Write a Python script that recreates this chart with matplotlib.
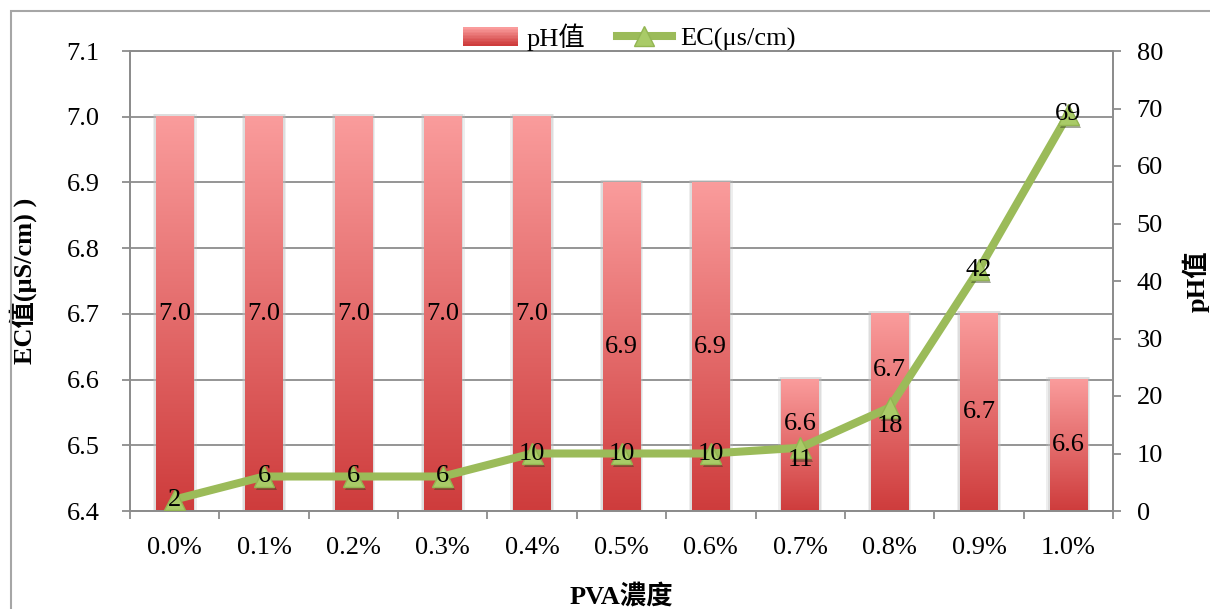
import matplotlib
matplotlib.use("Agg")
import matplotlib.pyplot as plt
import matplotlib.patheffects as pe
from matplotlib.colors import LinearSegmentedColormap
from matplotlib.patches import Rectangle
from matplotlib.legend_handler import HandlerBase
from matplotlib.lines import Line2D
import numpy as np

plt.rcParams["font.family"] = ["Liberation Serif", "Noto Sans CJK TC"]
plt.rcParams["font.size"] = 19

# Datos
concentraciones = ["0.0%", "0.1%", "0.2%", "0.3%", "0.4%", "0.5%",
                   "0.6%", "0.7%", "0.8%", "0.9%", "1.0%"]
ph = [7.0, 7.0, 7.0, 7.0, 7.0, 6.9, 6.9, 6.6, 6.7, 6.7, 6.6]
ec = [2, 6, 6, 6, 10, 10, 10, 11, 18, 42, 69]

GRIS = "#8C8C8C"
VERDE = "#9BBB59"
cmap_barra = LinearSegmentedColormap.from_list("barra", ["#CE3C3C", "#FA9C9C"])

fig = plt.figure(figsize=(12.1, 6.09), dpi=100)
ax = fig.add_axes([130 / 1210, 1 - 511 / 609, 983 / 1210, 460 / 609])
ax2 = ax.twinx()

# marco exterior del gráfico
fig.patches.append(Rectangle((11 / 1210, -0.1), 1.2, 1 - 11 / 609 + 0.1,
                             transform=fig.transFigure, fill=False,
                             edgecolor="#A6A6A6", linewidth=1.5))

ymin, ymax = 6.4, 7.1
x = np.arange(len(concentraciones))
ancho = 0.42
grad = np.linspace(0, 1, 256).reshape(-1, 1)

for xi, v in zip(x, ph):
    # sombra suave detrás de la barra
    for d, a in [(0.07, 0.25), (0.04, 0.35)]:
        ax.add_patch(Rectangle((xi - ancho / 2 - d / 2, ymin), ancho + d, v - ymin + 0.004,
                               facecolor="#BFBFBF", alpha=a, edgecolor="none", zorder=1.5))
    ax.imshow(grad, cmap=cmap_barra, origin="lower", aspect="auto",
              extent=[xi - ancho / 2, xi + ancho / 2, ymin, v], zorder=2)

# posición vertical de las etiquetas de pH
pos_etiqueta = [(ymin + v) / 2 for v in ph]
pos_etiqueta[7] = 6.532
pos_etiqueta[8] = 6.615
for xi, v, yl in zip(x, ph, pos_etiqueta):
    ax.text(xi, yl, f"{v:.1f}", ha="center", va="center", zorder=5)

ax.set_xlim(-0.5, len(x) - 0.5)
ax.set_ylim(ymin, ymax)
ax.set_yticks(np.arange(6.4, 7.11, 0.1))
ax.set_yticklabels([f"{t:.1f}" for t in np.arange(6.4, 7.11, 0.1)])
ax.set_xticks(x)
ax.set_xticklabels(concentraciones)
ax.set_xticks(np.arange(-0.5, len(x), 1), minor=True)
ax.tick_params(axis="x", which="major", length=0, pad=19)
ax.tick_params(axis="x", which="minor", length=6, color=GRIS, width=1.3)
ax.tick_params(axis="y", length=6, color=GRIS, width=1.3, pad=16)
ax.grid(axis="y", color=GRIS, linewidth=1.3)
ax.set_axisbelow(True)

# línea de EC con marcadores
ax2.plot(x, ec, color=VERDE, linewidth=5.8, solid_capstyle="round", zorder=3)
ax2.plot(x, ec, linestyle="none", marker="^", markersize=15,
         markerfacecolor="#A9CB67", markeredgecolor="#93B552", markeredgewidth=1,
         zorder=4, path_effects=[pe.SimplePatchShadow(offset=(1.5, -2.5), alpha=0.45),
                                 pe.Normal()])
desplaz = [0, 0, 0, 0, 0, 0, 0, -9, -13, 0, 0]
for xi, v, dy in zip(x, ec, desplaz):
    ax2.annotate(str(v), (xi, v), xytext=(0, dy), textcoords="offset points",
                 ha="center", va="center", zorder=6)

ax2.set_ylim(0, 80)
ax2.set_yticks(range(0, 81, 10))
ax2.tick_params(axis="y", length=6, color=GRIS, width=1.3, pad=11)

for a in (ax, ax2):
    for s in a.spines.values():
        s.set_color(GRIS)
        s.set_linewidth(1.3)

ax.set_ylabel("EC值(μS/cm) )", fontweight="bold")
ax.yaxis.set_label_coords(-0.0946, 0.5)
ax2.set_ylabel("pH值", fontweight="bold")
ax2.yaxis.set_label_coords(1.071, 0.5)
ax.set_xlabel("PVA濃度", fontweight="bold")
ax.xaxis.set_label_coords(0.5, -0.157)


class HandlerGradiente(HandlerBase):
    def create_artists(self, legend, orig_handle, xdescent, ydescent,
                       width, height, fontsize, trans):
        n = 12
        franjas = []
        for i in range(n):
            franjas.append(Rectangle((-xdescent, -ydescent + i * height / n), width, height / n,
                                     facecolor=cmap_barra(i / (n - 1)), edgecolor="none",
                                     transform=trans))
        return franjas


handles = [Rectangle((0, 0), 1, 1), Line2D([], [], color=VERDE, linewidth=5.8,
                                           marker="^", markersize=15,
                                           markerfacecolor="#A9CB67",
                                           markeredgecolor="#93B552")]
fig.legend(handles, ["pH值", "EC(μs/cm)"], loc="center",
           bbox_to_anchor=(0.52, 1 - 37 / 609), ncol=2, frameon=False,
           handlelength=2.1, handletextpad=0.3, columnspacing=1.2,
           handler_map={Rectangle: HandlerGradiente()})

plt.savefig("out.png", dpi=100)
